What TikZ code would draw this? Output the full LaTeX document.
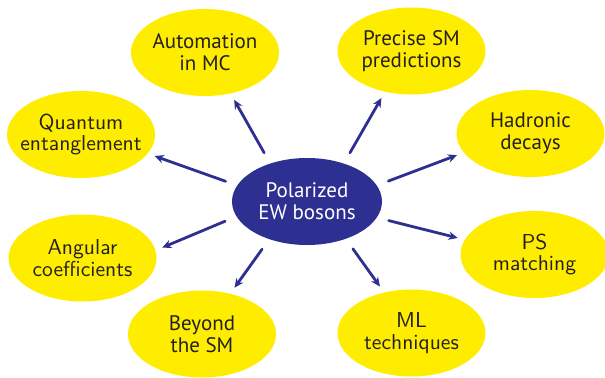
\documentclass[tikz,border=0pt]{standalone}
\usepackage{fontspec}
\usepackage{tikz}
\usetikzlibrary{shapes.geometric}
\usetikzlibrary{arrows.meta}
\newfontfamily\ptsans{PT Sans}
\definecolor{ffeeqq}{rgb}{1.,0.93,0.}
\definecolor{zzqqcc}{rgb}{0.18,0.19,0.57}
\definecolor{qqqqtt}{rgb}{0.14,0.12,0.13}
\tikzstyle{every node}=[font=\ptsans\fontsize{10.5}{11}\selectfont]
\tikzstyle{bubble}=[ellipse,fill=ffeeqq,minimum width=74pt,minimum height=43.5pt,inner sep=0pt]
\tikzstyle{hub}=[ellipse,fill=zzqqcc,minimum width=75pt,minimum height=43.5pt,inner sep=0pt]
\tikzstyle{lbl}=[align=center,text=qqqqtt,inner sep=0pt]
\tikzstyle{lmlbl}=[lbl,font=\sffamily\fontsize{10.8}{10.8}\selectfont]
\tikzstyle{arr}=[->,line width=1.4pt,color=zzqqcc,shorten <=6pt,shorten >=3.5pt]

\begin{document}
\begin{tikzpicture}[line cap=round,line join=round,>={Stealth[length=4.6pt,width=4.2pt]},x=0.5pt,y=0.5pt]
                    \useasboundingbox (0,0) rectangle (605,377);
                    \fill [white] (0,0) rectangle (605,377);
                    % the hub
                    \node [hub] (pol) at (307,175.5) {};
                    \node [lbl,text=white] (polt) at (pol) {Polarized\\EW bosons};
                    % the topics round it
                    \node [bubble] (auto) at (205,324.5) {};
                    \node [lbl] (autot) at (auto) {Automation\\in MC};
                    \node [bubble] (prec) at (411.5,326) {};
                    \node [lbl] (prect) at (prec) {Precise SM\\predictions};
                    \node [bubble] (had) at (530.5,243.5) {};
                    \node [lbl] (hadt) at (had) {Hadronic\\decays};
                    \node [bubble] (ps) at (534.5,122.5) {};
                    \node [lmlbl] (pst) at (ps) {PS\\matching};
                    \node [bubble] (ml) at (411.5,44) {};
                    \node [lmlbl] (mlt) at (ml) {ML\\techniques};
                    \node [bubble] (bsm) at (202,43) {};
                    \node [lbl] (bsmt) at (bsm) {Beyond\\the SM};
                    \node [bubble] (ang) at (82.5,119) {};
                    \node [lmlbl] (angt) at (ang) {Angular\\coefficients};
                    \node [bubble] (qe) at (81,242.5) {};
                    \node [lmlbl] (qet) at (qe) {Quantum\\entanglement};
                    % arrows
                    \draw [arr] (pol.134) -- (auto.-58.6);
                    \draw [arr] (pol.46) -- (prec.-123.3);
                    \draw [arr] (pol.13.5) -- (had.-164.2);
                    \draw [arr] (pol.-13.2) -- (ps.168.4);
                    \draw [arr] (pol.-44.7) -- (ml.124.5);
                    \draw [arr] (pol.-135.3) -- (bsm.55.1);
                    \draw [arr] (pol.-168.2) -- (ang.6.2);
                    \draw [arr] (pol.167.9) -- (qe.-16.9);
\end{tikzpicture}
\end{document}
